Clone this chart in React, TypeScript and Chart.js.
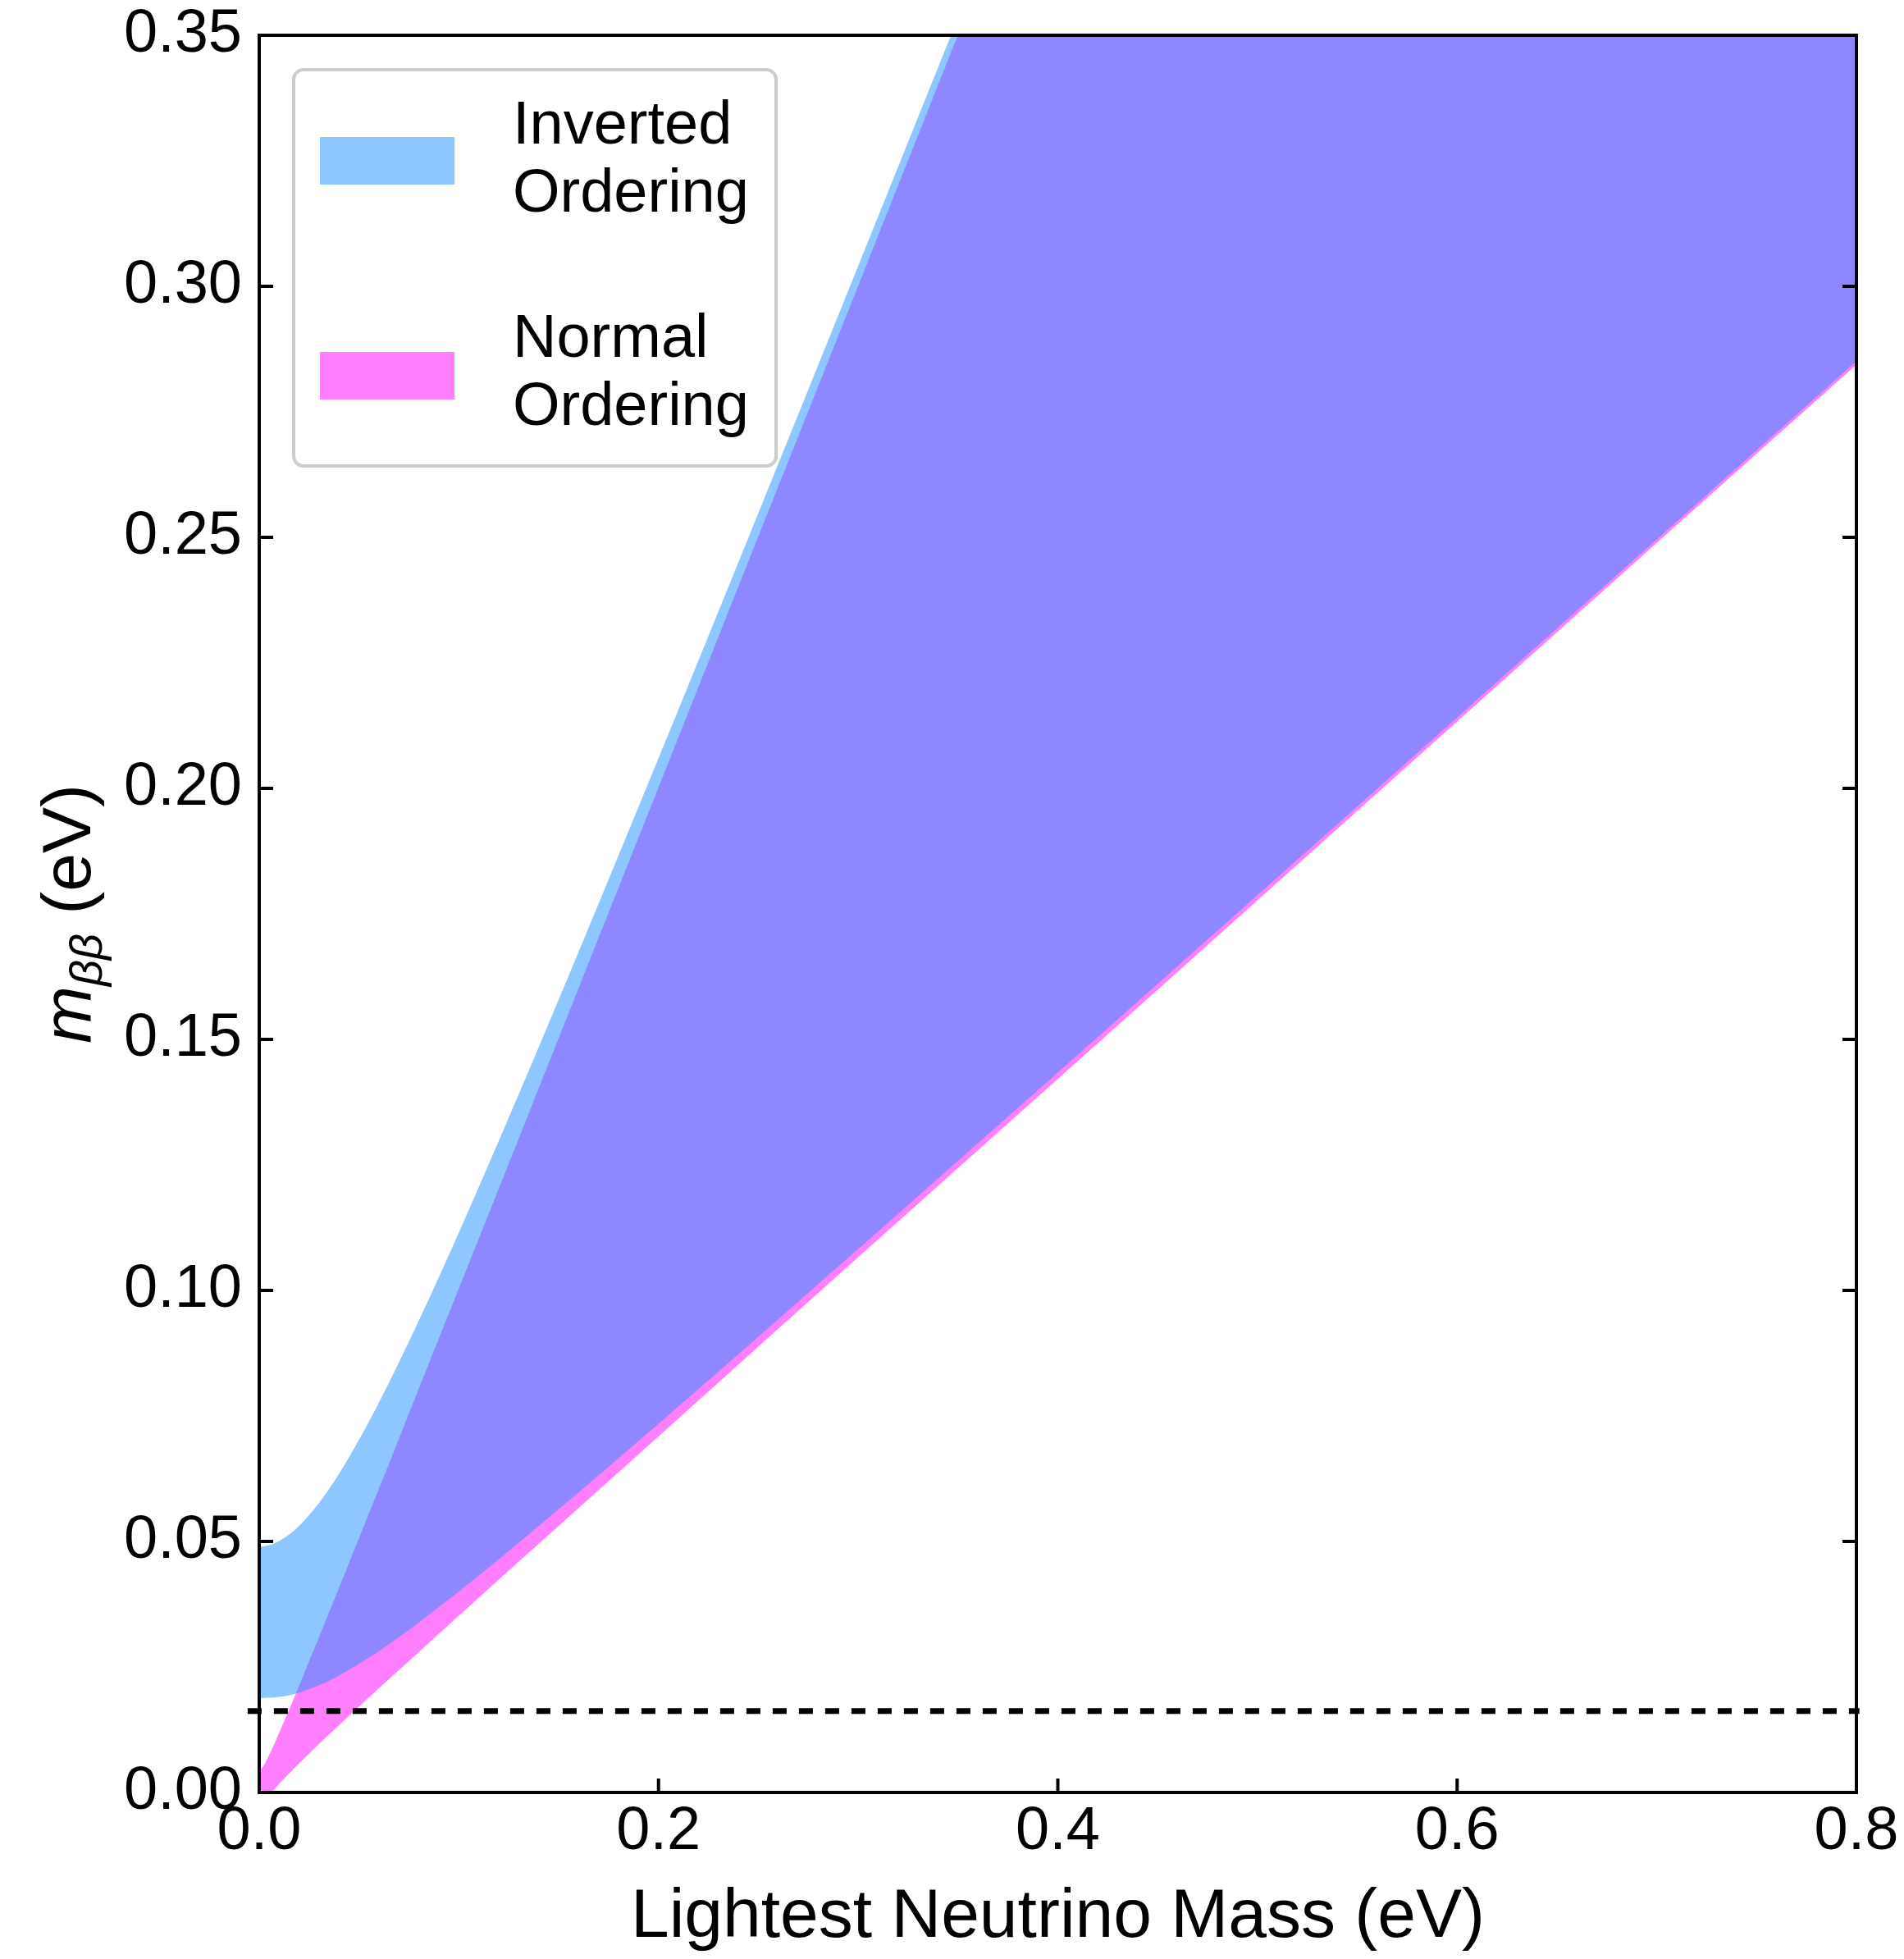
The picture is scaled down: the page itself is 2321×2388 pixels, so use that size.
import React, { useEffect, useRef } from "react";
import { Chart, registerables } from "chart.js";

Chart.register(...registerables);

const W = 2321;
const H = 2388;
const FONT = "'Liberation Sans', Arial, sans-serif";

// ---- data ----
const lightestMass = [0, 0.0025, 0.005, 0.0075, 0.01, 0.015, 0.02, 0.03, 0.04, 0.05, 0.065, 0.08, 0.1, 0.125, 0.15, 0.2, 0.25, 0.3, 0.35, 0.4, 0.5, 0.6, 0.7, 0.8];
const invertedUpper = [0.0489, 0.049, 0.04925, 0.04961, 0.05009, 0.05138, 0.05311, 0.05769, 0.0635, 0.07025, 0.08163, 0.09402, 0.11154, 0.13442, 0.15794, 0.20602, 0.25484, 0.30405, 0.35347, 0.40304, 0.50244, 0.60203, 0.70174, 0.80153];
const invertedLower = [0.01885, 0.01885, 0.01887, 0.01893, 0.01903, 0.01938, 0.01989, 0.02136, 0.0233, 0.0256, 0.02954, 0.03386, 0.04002, 0.04809, 0.0564, 0.07344, 0.09077, 0.10824, 0.1258, 0.14342, 0.17874, 0.21415, 0.24959, 0.28507];
const normalUpper = [0.0042, 0.0055, 0.0075, 0.0096, 0.0119, 0.0165, 0.0213, 0.031, 0.0408, 0.0507, 0.0655, 0.0805, 0.1004, 0.1253, 0.1503, 0.2002, 0.2502, 0.3001, 0.3501, 0.4001, 0.5001, 0.6001, 0.7001, 0.8001];
const normalLower = [0.0012, 0, 0, 0.0006, 0.0017, 0.0038, 0.0058, 0.0097, 0.0134, 0.0171, 0.0226, 0.028, 0.0352, 0.0442, 0.0531, 0.0709, 0.0888, 0.1066, 0.1244, 0.1421, 0.1777, 0.2133, 0.2489, 0.2844];
const sensitivityLevel = 0.0162;
const sensitivitySpan = [-0.0058, 0.8015];

const xTickValues = [0, 0.2, 0.4, 0.6, 0.8];
const xTickLabels = ["0.0", "0.2", "0.4", "0.6", "0.8"];
const yTickValues = [0, 0.05, 0.1, 0.15, 0.2, 0.25, 0.3, 0.35];
const yTickLabels = ["0.00", "0.05", "0.10", "0.15", "0.20", "0.25", "0.30", "0.35"];

const xTitle = "Lightest Neutrino Mass (eV)";
const yTitleSymbol = "m";
const yTitleSubscript = "ββ";
const yTitleUnit = " (eV)";

const legendLines = [
  ["Inverted", "Ordering"],
  ["Normal", "Ordering"],
];
const ioColor = "rgba(30,144,255,0.5)";
const noColor = "rgba(255,0,255,0.5)";
const legendColors = [ioColor, noColor];

const pts = (ys: number[]) => lightestMass.map((x, i) => ({ x, y: ys[i] }));

const framePlugin = {
  id: "frame",
  afterDraw(chart: any) {
    const { ctx, chartArea, scales } = chart;
    const { left, right, top, bottom } = chartArea;
    ctx.save();
    ctx.strokeStyle = "#000";
    ctx.lineWidth = 4;
    ctx.strokeRect(left, top, right - left, bottom - top);
    ctx.beginPath();
    const tl = 17;
    for (const v of yTickValues) {
      const py = scales.y.getPixelForValue(v);
      ctx.moveTo(left, py);
      ctx.lineTo(left + tl, py);
      ctx.moveTo(right, py);
      ctx.lineTo(right - tl, py);
    }
    for (const v of xTickValues) {
      const px = scales.x.getPixelForValue(v);
      ctx.moveTo(px, bottom);
      ctx.lineTo(px, bottom - tl);
    }
    ctx.stroke();
    ctx.restore();
  },
};

const legendPlugin = {
  id: "customLegend",
  afterDraw(chart: any) {
    const { ctx } = chart;
    const bx = 358, by = 85, bw = 588, bh = 483, r = 12;
    ctx.save();
    ctx.beginPath();
    ctx.moveTo(bx + r, by);
    ctx.arcTo(bx + bw, by, bx + bw, by + bh, r);
    ctx.arcTo(bx + bw, by + bh, bx, by + bh, r);
    ctx.arcTo(bx, by + bh, bx, by, r);
    ctx.arcTo(bx, by, bx + bw, by, r);
    ctx.closePath();
    ctx.fillStyle = "rgba(255,255,255,0.8)";
    ctx.fill();
    ctx.strokeStyle = "#cccccc";
    ctx.lineWidth = 4;
    ctx.stroke();

    const patchTops = [167, 429];
    const baselines = [[175, 258], [435, 518]];
    ctx.font = `74px ${FONT}`;
    ctx.textAlign = "left";
    ctx.textBaseline = "alphabetic";
    legendLines.forEach((lines, i) => {
      ctx.fillStyle = legendColors[i];
      ctx.fillRect(390, patchTops[i], 164, 58);
      ctx.fillStyle = "#000";
      lines.forEach((t, j) => ctx.fillText(t, 625, baselines[i][j]));
    });
    ctx.restore();
  },
};

const yTitlePlugin = {
  id: "yTitle",
  afterDraw(chart: any) {
    const { ctx, chartArea } = chart;
    const cy = (chartArea.top + chartArea.bottom) / 2;
    const fMain = `italic 84px ${FONT}`;
    const fSub = `italic 56px ${FONT}`;
    const fNorm = `84px ${FONT}`;
    ctx.save();
    ctx.translate(110, cy);
    ctx.rotate(-Math.PI / 2);
    ctx.font = fMain;
    const wm = ctx.measureText(yTitleSymbol).width;
    ctx.font = fSub;
    const ws = ctx.measureText(yTitleSubscript).width;
    ctx.font = fNorm;
    const wu = ctx.measureText(yTitleUnit).width;
    let x0 = -(wm + ws + wu) / 2;
    ctx.fillStyle = "#000";
    ctx.textAlign = "left";
    ctx.textBaseline = "alphabetic";
    ctx.font = fMain;
    ctx.fillText(yTitleSymbol, x0, 0);
    x0 += wm;
    ctx.font = fSub;
    ctx.fillText(yTitleSubscript, x0, 14);
    x0 += ws;
    ctx.font = fNorm;
    ctx.fillText(yTitleUnit, x0, 0);
    ctx.restore();
  },
};

export default function App() {
  const ref = useRef<HTMLCanvasElement>(null);
  useEffect(() => {
    document.body.style.margin = "0";
    const canvas = ref.current;
    if (!canvas) return;
    const base = {
      pointRadius: 0,
      pointHoverRadius: 0,
      borderWidth: 0,
      borderColor: "transparent",
      cubicInterpolationMode: "monotone" as const,
    };
    const chart = new Chart(canvas, {
      type: "line",
      data: {
        datasets: [
          { ...base, label: "Inverted Ordering", data: pts(invertedUpper), fill: "+1", backgroundColor: ioColor, order: 1 },
          { ...base, label: "IO lower", data: pts(invertedLower), fill: false, order: 1 },
          { ...base, label: "Normal Ordering", data: pts(normalUpper), fill: "+1", backgroundColor: noColor, order: 2 },
          { ...base, label: "NO lower", data: pts(normalLower), fill: false, order: 2 },
          {
            label: "Sensitivity",
            data: sensitivitySpan.map((x) => ({ x, y: sensitivityLevel })),
            borderColor: "#000",
            borderWidth: 7,
            borderDash: [17, 15],
            borderCapStyle: "butt",
            pointRadius: 0,
            fill: false,
            clip: false as any,
            order: 0,
          },
        ] as any,
      },
      options: {
        responsive: false,
        maintainAspectRatio: false,
        devicePixelRatio: 1,
        animation: false,
        events: [],
        layout: { padding: { left: 0, top: 43, right: 58, bottom: 0 }, autoPadding: false },
        plugins: {
          legend: { display: false },
          tooltip: { enabled: false },
        },
        scales: {
          x: {
            type: "linear",
            min: 0,
            max: 0.8,
            grid: { display: false, drawTicks: false },
            border: { display: false },
            afterBuildTicks: (s: any) => {
              s.ticks = xTickValues.map((v) => ({ value: v }));
            },
            afterFit: (s: any) => {
              s.height = 203;
              s.paddingLeft = 0;
              s.paddingRight = 0;
              s.paddingTop = 0;
              s.paddingBottom = 0;
            },
            ticks: {
              autoSkip: false,
              maxRotation: 0,
              padding: 12,
              color: "#000",
              font: { family: FONT, size: 74, lineHeight: 1 },
              callback: (v: any) => xTickLabels[xTickValues.indexOf(Number(v))],
            },
            title: {
              display: true,
              text: xTitle,
              color: "#000",
              font: { family: FONT, size: 84, lineHeight: 1 },
              padding: { top: 0, bottom: 8 },
            },
          },
          y: {
            type: "linear",
            min: 0,
            max: 0.35,
            grid: { display: false, drawTicks: false },
            border: { display: false },
            afterBuildTicks: (s: any) => {
              s.ticks = yTickValues.map((v) => ({ value: v }));
            },
            afterFit: (s: any) => {
              s.width = 316;
              s.paddingLeft = 0;
              s.paddingRight = 0;
              s.paddingTop = 0;
              s.paddingBottom = 0;
            },
            ticks: {
              autoSkip: false,
              padding: 21,
              color: "#000",
              font: { family: FONT, size: 74, lineHeight: 1 },
              callback: (v: any) => yTickLabels[yTickValues.indexOf(Number(v))],
            },
          },
        },
      } as any,
      plugins: [framePlugin, yTitlePlugin, legendPlugin],
    });
    return () => chart.destroy();
  }, []);
  return <canvas ref={ref} width={W} height={H} style={{ display: "block", width: W, height: H }} />;
}
